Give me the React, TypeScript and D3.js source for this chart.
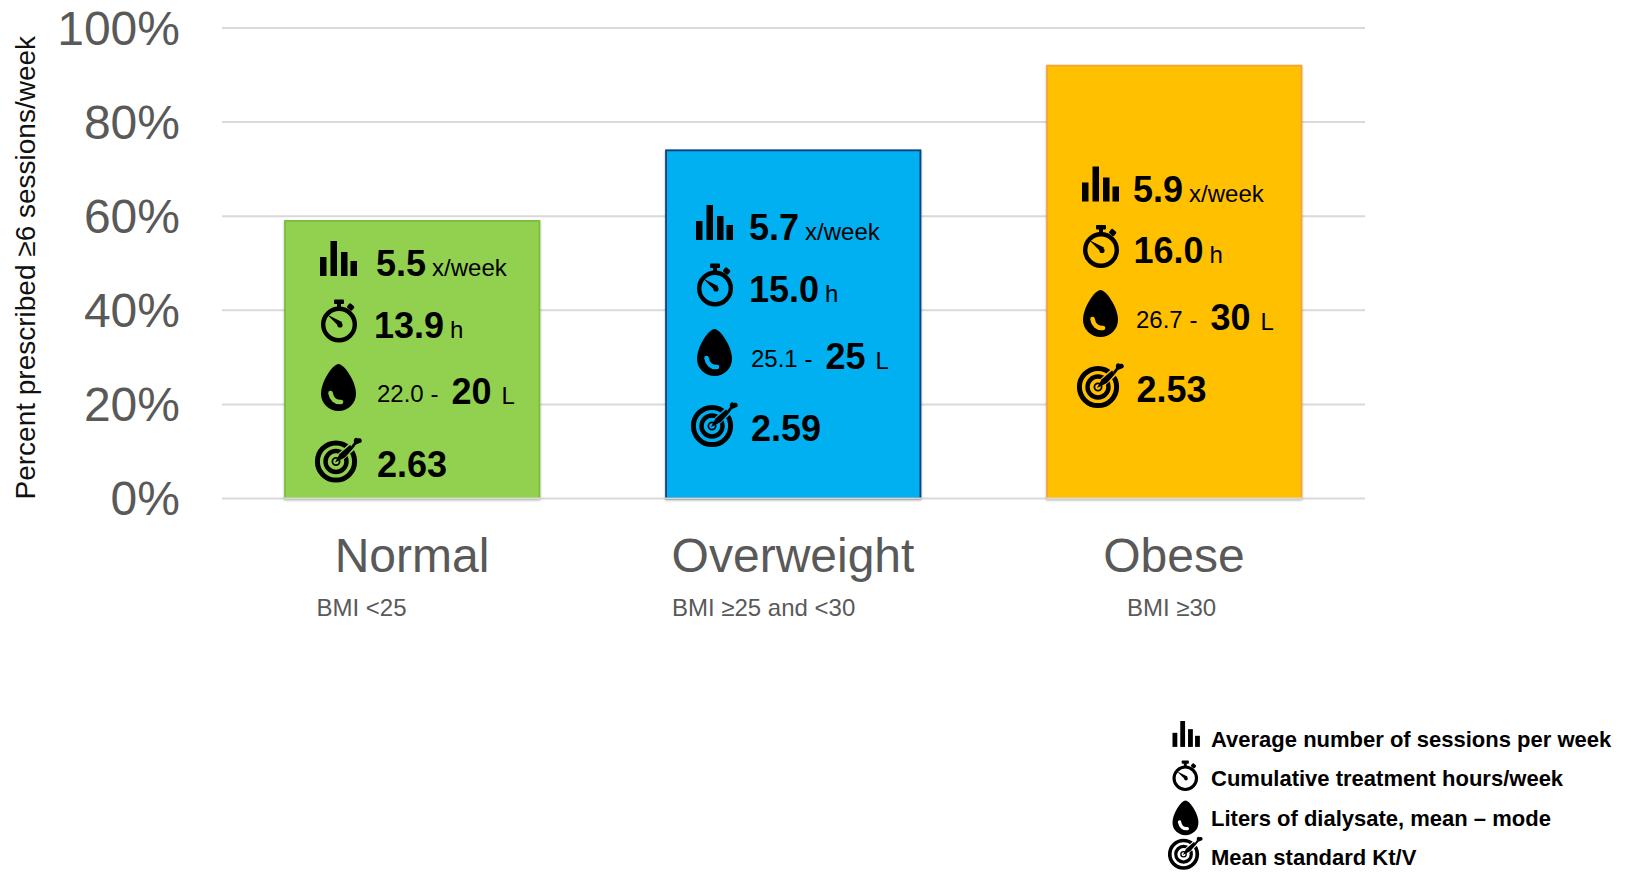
import * as d3 from 'd3';
import React from 'react';

const WIDTH = 1631;
const HEIGHT = 872;
const FONT = '"Liberation Sans", Arial, sans-serif';
const GREY = '#595959';

const categories = ['Normal', 'Overweight', 'Obese'];
const bmiLabels = ['BMI <25', 'BMI ≥25 and <30', 'BMI ≥30'];
const prescribedPct = [59, 74, 92];
const sessionsPerWeek = [5.5, 5.7, 5.9];
const treatmentHours = [13.9, 15.0, 16.0];
const litersMean = [22.0, 25.1, 26.7];
const litersMode = [20, 25, 30];
const stdKtv = [2.63, 2.59, 2.53];
const legendLabels = [
    'Average number of sessions per week',
    'Cumulative treatment hours/week',
    'Liters of dialysate, mean – mode',
    'Mean standard Kt/V',
];

const barFills = ['#92d050', '#00b0f0', '#ffc000'];
const barStrokes = ['#7cbd3c', '#0c3f7c', '#f7a530'];
// offsets of the text blocks inside each bar, relative to the first bar
const iconDx = [0, 376, 762];
const textDx = [
    [0, 0, 0, 0],
    [373, 375, 374, 374],
    [757, 759.5, 759, 759.5],
];
const rowDy = [
    [0, 0.5, 0, 0.5],
    [-36, -35.5, -35, -35],
    [-74.5, -74, -74, -74],
];
const subLabelX = [316.5, 672, 1127];

const x = d3.scaleBand().domain(categories).range([222, 1365]).paddingInner(0.331).paddingOuter(0.1655);
const y = d3.scaleLinear().domain([0, 100]).range([498.5, 28]);
const fmt1 = d3.format('.1f');
const fmt2 = d3.format('.2f');

const BarsIcon = ({tx, ty, s = 1}) => (
    <g transform={`translate(${tx},${ty}) scale(${s})`}>
        <rect x={0} y={16} width={6.5} height={19}/>
        <rect x={10.5} y={0} width={6.5} height={35}/>
        <rect x={21} y={11} width={6.5} height={24}/>
        <rect x={30.5} y={20} width={6.5} height={15}/>
    </g>
);

const WatchIcon = ({tx, ty, s = 1}) => (
    <g transform={`translate(${tx},${ty}) scale(${s})`}>
        <circle cx={18} cy={25} r={15.8} fill="none" stroke="#000" strokeWidth={4.4}/>
        <rect x={13} y={0} width={10} height={4.5} rx={1}/>
        <rect x={16} y={3} width={4} height={6}/>
        <rect x={26.5} y={5} width={6.5} height={5.5} rx={1.5} transform="rotate(40 30 7.5)"/>
        <path d="M6 15 L21 22.5 L18.5 27.5 Z"/>
        <circle cx={19} cy={25.5} r={2.6}/>
    </g>
);

const DropIcon = ({tx, ty, s = 1, bg}) => (
    <g transform={`translate(${tx},${ty}) scale(${s})`}>
        <path d="M17.5 0 C23 0 35 17 35 30 A17.5 17 0 0 1 0 30 C0 17 12 0 17.5 0 Z"/>
        <path d="M9.5 29 C10.5 35 14.5 38.5 20 38" fill="none" stroke={bg} strokeWidth={4.6} strokeLinecap="round"/>
    </g>
);

const TargetIcon = ({tx, ty, s = 1, bg}) => (
    <g transform={`translate(${tx},${ty}) scale(${s})`}>
        <circle cx={21} cy={26} r={18.6} fill="none" stroke="#000" strokeWidth={5}/>
        <circle cx={21} cy={26} r={10.5} fill="none" stroke="#000" strokeWidth={4.4}/>
        <circle cx={21} cy={26} r={3.6} fill="none" stroke="#000" strokeWidth={1.8}/>
        <path d="M25 22 L37 11" stroke={bg} strokeWidth={8}/>
        <path d="M20 27 L24.5 18.5 L35 9.5 L38 13 L30 22 Z"/>
        <path d="M36 11 L39 7 C38 3 41 1 43 3 C46 1.5 48 5 46 7 L41 9 L38 13 Z"/>
    </g>
);

export default function App() {
    const barWidth = x.bandwidth();
    return (
        <svg width={WIDTH} height={HEIGHT} style={{position: 'absolute', left: 0, top: 0, background: '#fff'}}
             fontFamily={FONT}>
            <defs>
                <filter id="barShadow" x="-5%" y="-5%" width="110%" height="110%">
                    <feDropShadow dx={0} dy={1} stdDeviation={1.2} floodColor="#000" floodOpacity={0.3}/>
                </filter>
            </defs>
            <g>
                {y.ticks(5).map(t => (
                    <g key={t}>
                        <line x1={222} x2={1365} y1={y(t)} y2={y(t)} stroke="#d9d9d9" strokeWidth={2}/>
                        <text x={180} y={y(t) + 16.5} textAnchor="end" fontSize={48} fill={GREY}>{t}%</text>
                    </g>
                ))}
            </g>
            <text transform={`translate(35,499.5) rotate(-90)`} fontSize={28} fill="#111">
                Percent prescribed ≥6 sessions/week
            </text>

            {categories.map((c, i) => {
                const bx = x(c) ?? 0;
                const ix = iconDx[i];
                const tx = textDx[i];
                const dy = rowDy[i];
                const bg = barFills[i];
                return (
                    <g key={c}>
                        <rect x={bx} y={y(prescribedPct[i])} width={barWidth - 0.5}
                              height={y(0) - y(prescribedPct[i])}
                              fill={bg} stroke={barStrokes[i]} strokeWidth={1.8} filter="url(#barShadow)"/>
                        <line x1={bx - 1} x2={bx + barWidth + 1} y1={y(0)} y2={y(0)} stroke="#d9d9d9" strokeWidth={2}/>

                        <BarsIcon tx={320 + ix} ty={241 + rowDy[i][0]}/>
                        <text x={376 + tx[0]} y={276 + dy[0]} fontSize={24}>
                            <tspan fontSize={36} fontWeight="bold">{fmt1(sessionsPerWeek[i])}</tspan>
                            <tspan dx={6}>x/week</tspan>
                        </text>

                        <WatchIcon tx={321 + ix} ty={299 + dy[1]}/>
                        <text x={374 + tx[1]} y={337 + dy[1]} fontSize={24}>
                            <tspan fontSize={36} fontWeight="bold">{fmt1(treatmentHours[i])}</tspan>
                            <tspan dx={6}>h</tspan>
                        </text>

                        <DropIcon tx={321 + ix} ty={364 + dy[2]} bg={bg}/>
                        <text x={377 + tx[2]} y={402 + dy[2]} fontSize={24}>{fmt1(litersMean[i])} -</text>
                        <text x={451.5 + tx[2]} y={404 + dy[2]} fontSize={36} fontWeight="bold">{litersMode[i]}</text>
                        <text x={501.5 + tx[2]} y={404 + dy[2]} fontSize={24}>L</text>

                        <TargetIcon tx={315 + ix} ty={435 + dy[3]} bg={bg}/>
                        <text x={377 + tx[3]} y={476 + dy[3]} fontSize={36} fontWeight="bold">{fmt2(stdKtv[i])}</text>

                        <text x={bx + barWidth / 2 - 0.5} y={572} textAnchor="middle" fontSize={48} fill={GREY}>{c}</text>
                        <text x={subLabelX[i]} y={616} fontSize={24} fill={GREY}>{bmiLabels[i]}</text>
                    </g>
                );
            })}

            <g fontSize={22} fontWeight="bold">
                <BarsIcon tx={1172.5} ty={721} s={0.74}/>
                <WatchIcon tx={1172.5} ty={760.5} s={0.71}/>
                <DropIcon tx={1172.5} ty={800.5} s={0.74} bg="#fff"/>
                <TargetIcon tx={1168} ty={835} s={0.74} bg="#fff"/>
                <text x={1211} y={747}>{legendLabels[0]}</text>
                <text x={1211} y={786}>{legendLabels[1]}</text>
                <text x={1211} y={826}>{legendLabels[2]}</text>
                <text x={1211} y={865}>{legendLabels[3]}</text>
            </g>
        </svg>
    );
}
